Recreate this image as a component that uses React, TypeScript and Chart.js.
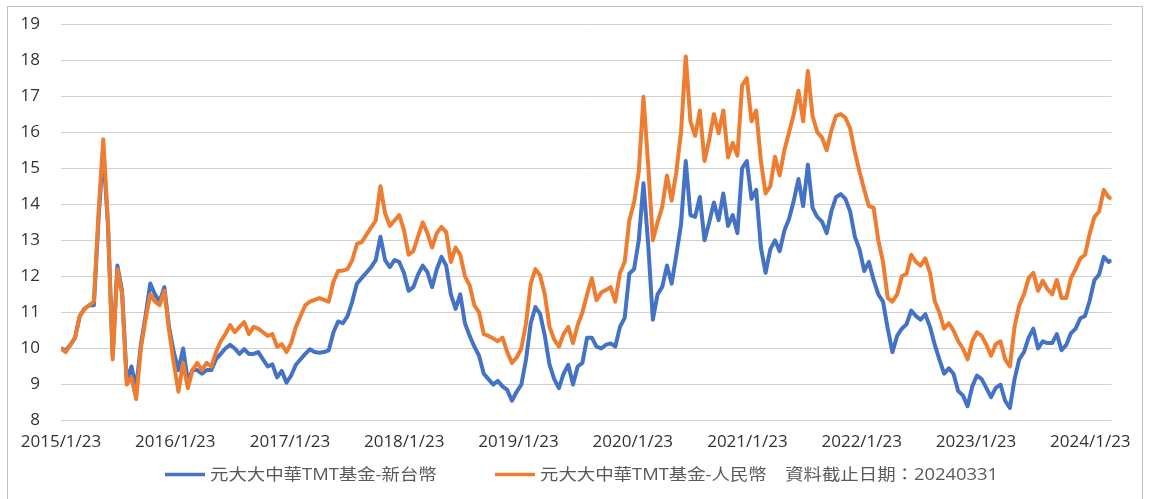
import React, { useEffect, useRef } from 'react';
import { Chart, registerables } from 'chart.js';

Chart.register(...registerables);

// ---- data ----
const START_DATE = '2015/1/23';
const END_DATE = '2024/3/31';
const STEP_DAYS = 15;

const X_TICK_LABELS = [
  '2015/1/23', '2016/1/23', '2017/1/23', '2018/1/23', '2019/1/23',
  '2020/1/23', '2021/1/23', '2022/1/23', '2023/1/23', '2024/1/23',
];

const Y_MIN = 8;
const Y_MAX = 19;

const SERIES_TWD_NAME = '元大大中華TMT基金-新台幣';
const SERIES_CNY_NAME = '元大大中華TMT基金-人民幣\u3000資料截止日期：20240331';

const TWD_VALUES = [
  10.0, 9.95, 10.1, 10.3, 10.9, 11.1, 11.2, 11.2, 13.6, 15.5,
  13.4, 9.8, 12.3, 11.6, 9.1, 9.5, 8.9, 10.1, 10.9, 11.8,
  11.5, 11.3, 11.7, 10.6, 9.9, 9.4, 10.0, 9.1, 9.4, 9.4,
  9.3, 9.4, 9.4, 9.7, 9.85, 10.0, 10.1, 10.0, 9.85, 9.98,
  9.85, 9.85, 9.9, 9.7, 9.5, 9.56, 9.2, 9.38, 9.05, 9.25,
  9.55, 9.7, 9.85, 9.98, 9.9, 9.88, 9.9, 9.95, 10.45, 10.75,
  10.7, 10.9, 11.3, 11.8, 11.95, 12.1, 12.25, 12.45, 13.1, 12.45,
  12.26, 12.45, 12.4, 12.1, 11.6, 11.7, 12.05, 12.3, 12.12, 11.7,
  12.2, 12.54, 12.3, 11.5, 11.1, 11.5, 10.7, 10.35, 10.05, 9.8,
  9.3, 9.15, 9.0, 9.1, 8.95, 8.85, 8.55, 8.8, 9.0, 9.7,
  10.7, 11.15, 10.96, 10.35, 9.55, 9.15, 8.9, 9.3, 9.55, 9.0,
  9.5, 9.6, 10.3, 10.3, 10.05, 10.0, 10.1, 10.14, 10.05, 10.6,
  10.85, 12.08, 12.2, 13.0, 14.58, 12.9, 10.8, 11.5, 11.71, 12.3,
  11.8, 12.6, 13.45, 15.2, 13.7, 13.65, 14.2, 13.0, 13.5, 14.05,
  13.56, 14.3, 13.4, 13.7, 13.2, 15.0, 15.2, 14.15, 14.4, 12.8,
  12.1, 12.75, 13.0, 12.7, 13.27, 13.6, 14.1, 14.7, 13.95, 15.1,
  13.9, 13.65, 13.52, 13.2, 13.8, 14.2, 14.28, 14.15, 13.8, 13.1,
  12.75, 12.15, 12.4, 11.9, 11.5, 11.3, 10.55, 9.9, 10.35, 10.55,
  10.67, 11.05, 10.9, 10.8, 10.95, 10.6, 10.11, 9.7, 9.3, 9.45,
  9.3, 8.82, 8.7, 8.4, 8.95, 9.25, 9.15, 8.9, 8.65, 8.91,
  9.0, 8.55, 8.35, 9.15, 9.7, 9.9, 10.3, 10.55, 10.0, 10.2,
  10.15, 10.15, 10.4, 9.95, 10.1, 10.42, 10.55, 10.84, 10.9, 11.33,
  11.9, 12.05, 12.54, 12.4, 12.45,
];

const CNY_VALUES = [
  10.0, 9.9, 10.1, 10.3, 10.9, 11.1, 11.2, 11.3, 13.8, 15.8,
  13.5, 9.7, 12.2, 11.5, 9.0, 9.2, 8.6, 10.0, 10.8, 11.5,
  11.3, 11.2, 11.6, 10.5, 9.6, 8.8, 9.6, 8.9, 9.4, 9.6,
  9.4, 9.6, 9.5, 9.9, 10.2, 10.4, 10.65, 10.45, 10.6, 10.73,
  10.4, 10.6, 10.55, 10.45, 10.35, 10.4, 10.05, 10.12, 9.9, 10.15,
  10.6, 10.9, 11.2, 11.3, 11.35, 11.4, 11.35, 11.3, 11.85, 12.15,
  12.16, 12.2, 12.45, 12.9, 12.95, 13.15, 13.35, 13.55, 14.5, 13.75,
  13.4, 13.55, 13.7, 13.3, 12.6, 12.7, 13.1, 13.5, 13.2, 12.8,
  13.2, 13.37, 13.23, 12.4, 12.8, 12.6, 12.0, 11.75, 11.2, 11.0,
  10.4, 10.35, 10.28, 10.2, 10.3, 9.9, 9.6, 9.75, 10.0, 10.7,
  11.8, 12.2, 12.03, 11.5, 10.6, 10.25, 10.05, 10.4, 10.6, 10.15,
  10.65, 11.0, 11.5, 11.95, 11.34, 11.55, 11.62, 11.7, 11.3, 12.1,
  12.4, 13.56, 14.05, 14.9, 16.98, 15.1, 13.0, 13.5, 13.93, 14.8,
  14.1, 14.9, 16.0, 18.1, 16.3, 15.9, 16.6, 15.2, 15.8, 16.5,
  15.97, 16.6, 15.3, 15.7, 15.35, 17.3, 17.5, 16.3, 16.6, 15.2,
  14.3, 14.5, 15.32, 14.8, 15.5, 16.0, 16.5, 17.15, 16.3, 17.7,
  16.45, 16.0, 15.85, 15.5, 16.05, 16.45, 16.5, 16.4, 16.1, 15.45,
  14.9, 14.4, 13.95, 13.9, 13.0, 12.4, 11.4, 11.3, 11.5, 12.0,
  12.07, 12.6, 12.4, 12.3, 12.5, 12.1, 11.32, 11.0, 10.55, 10.7,
  10.5, 10.2, 10.0, 9.7, 10.2, 10.45, 10.35, 10.1, 9.8, 10.12,
  10.2, 9.7, 9.5, 10.6, 11.2, 11.5, 11.95, 12.1, 11.6, 11.88,
  11.65, 11.5, 11.9, 11.4, 11.4, 11.95, 12.2, 12.5, 12.6, 13.19,
  13.65, 13.8, 14.4, 14.2, 14.15,
];

// ---- style ----
const BLUE = '#4472C4';
const ORANGE = '#ED7D31';
const GRID = '#d0d0d0';
const TICK_COLOR = '#333333';
const LEGEND_COLOR = '#595959';
const TICK_FONT = { family: '"Open Sans", "Noto Sans CJK TC", sans-serif', size: 17 };
const LEGEND_FONT = '16px "Open Sans", "Noto Sans CJK TC", sans-serif';
const LEGEND_STRETCH = 1.15;
const LINE_WIDTH = 4;

const dayOf = (s: string) => {
  const [y, m, d] = s.split('/').map(Number);
  const [y0, m0, d0] = START_DATE.split('/').map(Number);
  return Math.round((Date.UTC(y, m - 1, d) - Date.UTC(y0, m0 - 1, d0)) / 86400000);
};

const END_DAY = dayOf(END_DATE);
const toPoints = (vals: number[]) =>
  vals.map((v, i) => ({ x: Math.min(i * STEP_DAYS, END_DAY), y: v }));

const X_TICKS = X_TICK_LABELS.map((l) => ({ value: dayOf(l), label: l }));

const legendPlugin = {
  id: 'bottomLegend',
  afterDraw(chart: any) {
    const { ctx } = chart;
    ctx.save();
    ctx.font = LEGEND_FONT;
    const items = chart.data.datasets.map((ds: any) => ({ text: ds.label, color: ds.borderColor }));
    const sampleW = 40;
    const textGap = 5;
    const starts = [chart.width / 2 - 410, chart.width / 2 - 80];
    const y = chart.chartArea.bottom + 54;
    items.forEach((it: any, i: number) => {
      const x = starts[i];
      ctx.strokeStyle = it.color;
      ctx.lineWidth = 3.5;
      ctx.beginPath();
      ctx.moveTo(x, y);
      ctx.lineTo(x + sampleW, y);
      ctx.stroke();
      ctx.save();
      ctx.translate(x + sampleW + textGap, y + 1);
      ctx.scale(LEGEND_STRETCH, 1);
      ctx.fillStyle = LEGEND_COLOR;
      ctx.textBaseline = 'middle';
      ctx.textAlign = 'left';
      ctx.fillText(it.text, 0, 0);
      ctx.restore();
    });
    ctx.restore();
  },
};

export default function App() {
  const canvasRef = useRef<HTMLCanvasElement | null>(null);

  useEffect(() => {
    if (!canvasRef.current) return;
    const chart = new Chart(canvasRef.current, {
      type: 'line',
      data: {
        datasets: [
          {
            label: SERIES_TWD_NAME,
            data: toPoints(TWD_VALUES),
            borderColor: BLUE,
            backgroundColor: BLUE,
            borderWidth: LINE_WIDTH,
            borderJoinStyle: 'round',
            pointRadius: 0,
            tension: 0,
            order: 2,
          },
          {
            label: SERIES_CNY_NAME,
            data: toPoints(CNY_VALUES),
            borderColor: ORANGE,
            backgroundColor: ORANGE,
            borderWidth: LINE_WIDTH,
            borderJoinStyle: 'round',
            pointRadius: 0,
            tension: 0,
            order: 1,
          },
        ],
      },
      options: {
        animation: false,
        responsive: false,
        maintainAspectRatio: false,
        layout: { padding: { top: 17, right: 20, left: 0, bottom: 36 } },
        plugins: {
          legend: { display: false },
          tooltip: { enabled: false },
        },
        scales: {
          x: {
            type: 'linear',
            min: 0,
            max: END_DAY,
            grid: { display: false, drawTicks: false },
            border: { display: false },
            afterBuildTicks: (scale: any) => {
              scale.ticks = X_TICKS.map((t) => ({ value: t.value }));
            },
            ticks: {
              autoSkip: false,
              maxRotation: 0,
              padding: 11,
              color: TICK_COLOR,
              font: TICK_FONT,
              callback: (v: any) => {
                const t = X_TICKS.find((k) => k.value === v);
                return t ? t.label : '';
              },
            },
          },
          y: {
            min: Y_MIN,
            max: Y_MAX,
            grid: { color: GRID, lineWidth: 1, drawTicks: false },
            border: { display: false },
            afterFit: (scale: any) => {
              scale.width = 53;
              scale.paddingTop = 0;
              scale.paddingBottom = 0;
            },
            ticks: {
              stepSize: 1,
              padding: 21,
              color: TICK_COLOR,
              font: TICK_FONT,
            },
          },
        },
      },
      plugins: [legendPlugin],
    });
    return () => chart.destroy();
  }, []);

  return (
    <div style={{ position: 'fixed', left: 0, top: 0, width: 1151, height: 499, overflow: 'hidden', background: '#fff' }}>
      <div
        style={{
          position: 'absolute',
          left: 7,
          top: 6,
          width: 1134,
          height: 520,
          border: '1px solid #bfbfbf',
        }}
      >
        <canvas ref={canvasRef} width={1134} height={492} style={{ display: 'block' }} />
      </div>
    </div>
  );
}
